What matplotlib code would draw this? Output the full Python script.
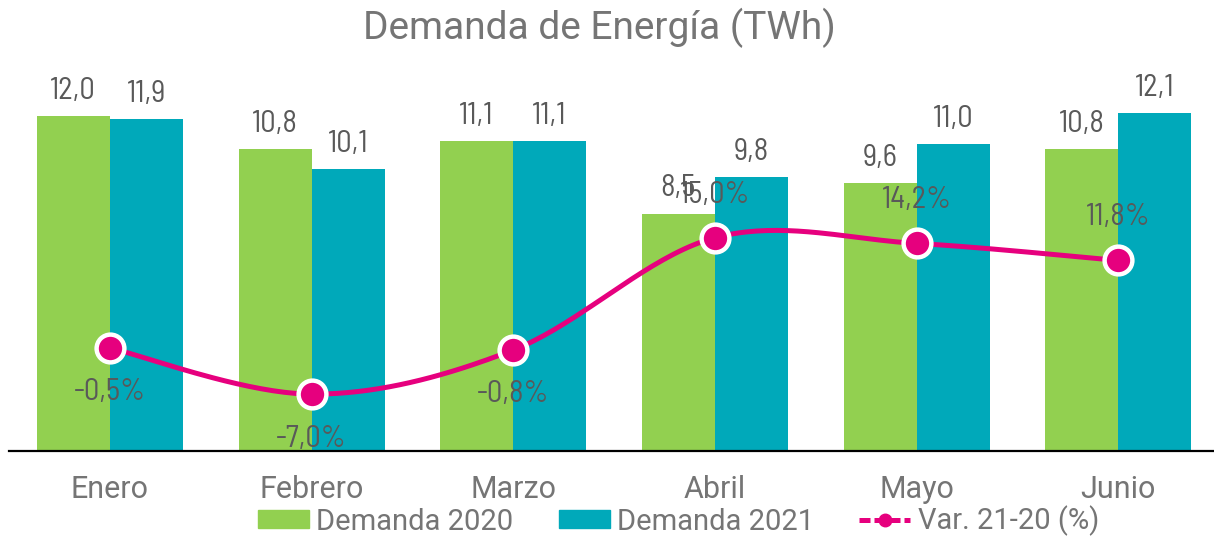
import numpy as np
import matplotlib
matplotlib.use("Agg")
import matplotlib.pyplot as plt
from matplotlib.patches import Patch
from matplotlib.lines import Line2D

months = ["Enero", "Febrero", "Marzo", "Abril", "Mayo", "Junio"]
demanda_2020 = [12.0, 10.8, 11.1, 8.5, 9.6, 10.8]
demanda_2021 = [11.9, 10.1, 11.1, 9.8, 11.0, 12.1]
variacion = [-0.5, -7.0, -0.8, 15.0, 14.2, 11.8]

GREEN = "#92D050"
TEAL = "#00A9BA"
MAGENTA = "#E6007E"
GRAY = "#595959"
TGRAY = "#757575"

REG = ["Roboto", "DejaVu Sans"]
COND = ["Barlow Semi Condensed", "Roboto Condensed", "DejaVu Sans"]
CW = 400

W, H = 1214, 537
fig = plt.figure(figsize=(W / 100, H / 100), dpi=100)
left = 9 / W
bottom = (H - 451) / H
top = (H - 60) / H
ax = fig.add_axes([left, bottom, 1 - left, top - bottom])
ax2 = ax.twinx()

x = np.arange(len(months))
bw = 0.362
b1 = ax.bar(x - bw / 2, demanda_2020, bw, color=GREEN, zorder=2)
b2 = ax.bar(x + bw / 2, demanda_2021, bw, color=TEAL, zorder=2)
ax.set_xlim(-0.5, 5.475)
ax.set_ylim(0, 14)

for rects, vals in ((b1, demanda_2020), (b2, demanda_2021)):
    for r, v in zip(rects, vals):
        ax.annotate(f"{v:.1f}".replace(".", ","),
                    (r.get_x() + r.get_width() / 2, r.get_height()),
                    xytext=(0, 8), textcoords="offset points",
                    ha="center", va="bottom", fontsize=22,
                    family=COND, weight=CW, color=GRAY)

for s in ("top", "left", "right"):
    ax.spines[s].set_visible(False)
ax.spines["bottom"].set_linewidth(1.6)
ax.spines["bottom"].set_color("black")
ax.set_yticks([])
ax.set_xticks(x)
ax.set_xticklabels(months, fontsize=22, family=REG, color=TGRAY)
ax.tick_params(axis="x", length=0, pad=17)

# smoothed line (Catmull-Rom style Bezier through the data points)
px = x.astype(float)
py = np.array(variacion, dtype=float)
cx, cy = [], []
n = len(px)
for i in range(n - 1):
    p0x, p0y = (px[i - 1], py[i - 1]) if i > 0 else (px[i], py[i])
    p3x, p3y = (px[i + 2], py[i + 2]) if i + 2 < n else (px[i + 1], py[i + 1])
    c1x = px[i] + (px[i + 1] - p0x) / 6
    c1y = py[i] + (py[i + 1] - p0y) / 6
    c2x = px[i + 1] - (p3x - px[i]) / 6
    c2y = py[i + 1] - (p3y - py[i]) / 6
    t = np.linspace(0, 1, 40)
    bx = (1 - t) ** 3 * px[i] + 3 * (1 - t) ** 2 * t * c1x + 3 * (1 - t) * t ** 2 * c2x + t ** 3 * px[i + 1]
    by = (1 - t) ** 3 * py[i] + 3 * (1 - t) ** 2 * t * c1y + 3 * (1 - t) * t ** 2 * c2y + t ** 3 * py[i + 1]
    cx.extend(bx)
    cy.extend(by)
ax2.plot(cx, cy, color=MAGENTA, lw=3.6, solid_capstyle="round", zorder=3)
ax2.plot(px, py, "o", color=MAGENTA, ms=20, mec="white", mew=3.2, zorder=4)
ax2.set_ylim(-15, 40)
ax2.set_yticks([])
for s in ax2.spines.values():
    s.set_visible(False)

for xi, v in zip(px, py):
    off = -32 if v < 0 else 31
    ax2.annotate(f"{v:.1f}%".replace(".", ","), (xi, v), xytext=(0, off),
                 textcoords="offset points", ha="center", va="center",
                 fontsize=22, family=COND, weight=CW,
                 color=GRAY, zorder=5)

fig.text(0.4934, 1 - 28 / H, "Demanda de Energía (TWh)", ha="center", va="center",
         fontsize=28, family=REG, color=TGRAY)

handles = [Patch(color=GREEN), Patch(color=TEAL),
           Line2D([0], [0], color=MAGENTA, lw=3.6, ls=(0, (2.2, 0.8)), marker="o",
                  ms=9, mfc=MAGENTA, mec=MAGENTA)]
fig.legend(handles, ["Demanda 2020", "Demanda 2021", "Var. 21-20 (%)"],
           loc="center", bbox_to_anchor=(0.559, 1 - 521 / H), ncol=3, frameon=False,
           prop={"family": REG, "size": 21}, labelcolor=TGRAY,
           handlelength=1.75, handleheight=0.6, handletextpad=0.25, columnspacing=1.55,
           borderpad=0, borderaxespad=0)

fig.savefig("out.png", dpi=100)
